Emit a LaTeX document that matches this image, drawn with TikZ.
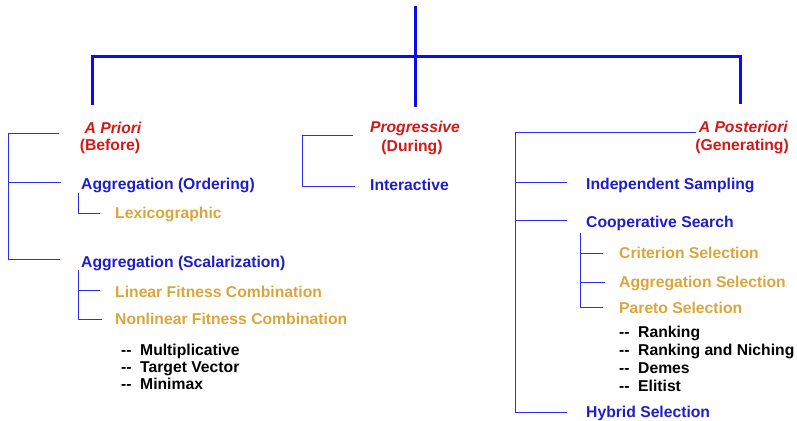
\documentclass[tikz,border=0pt]{standalone}
\usepackage{fontspec}
\setmainfont{Liberation Sans}
\definecolor{topblue}{RGB}{10,10,250}
\definecolor{lineblue}{RGB}{45,45,240}
\definecolor{txtblue}{RGB}{30,30,200}
\definecolor{txtred}{RGB}{210,25,25}
\definecolor{txtgold}{RGB}{220,165,60}
\newcommand\dashitem[1]{\makebox[19pt][l]{-{}-}#1}
\tikzset{
  lbl/.style={anchor=base west, inner sep=0pt, font=\fontsize{15.7}{17}\selectfont\bfseries},
  cat/.style={inner sep=0pt, font=\fontsize{15.7}{17}\selectfont\bfseries, text=txtred},
  lvone/.style={lbl, text=txtblue},
  lvtwo/.style={lbl, text=txtgold},
  lvthree/.style={lbl, text=black},
  trunk/.style={draw=topblue, line width=3pt},
  brk/.style={draw=lineblue, line width=1pt},
}
\begin{document}
\begin{tikzpicture}[x=1pt,y=-1pt]
\useasboundingbox (0,0) rectangle (797,420);
% top tree
\coordinate (root) at (415,6);
\coordinate (rootb) at (415,107);
\coordinate (hl) at (92,57);
\coordinate (hr) at (740,57);
\coordinate (dl) at (92,105);
\coordinate (dr) at (740,104);
\draw[trunk] (root) -- (rootb);
\draw[trunk] (dl) -- (hl) -- (hr) -- (dr);

% A Priori
\node[cat, anchor=base, font=\fontsize{15.7}{17}\selectfont\bfseries\itshape] (apriori) at (113,133) {A Priori};
\node[cat, anchor=base] (before) at (110,150) {(Before)};
\node[lvone] (aggord) at (81,189) {Aggregation (Ordering)};
\node[lvtwo] (lexi) at (115,218) {Lexicographic};
\node[lvone] (aggscal) at (81,267) {Aggregation (Scalarization)};
\node[lvtwo] (linfit) at (115,297) {Linear Fitness Combination};
\node[lvtwo] (nonlin) at (115,324) {Nonlinear Fitness Combination};
\node[lvthree] (mult) at (121,355) {\dashitem{Multiplicative}};
\node[lvthree] (target) at (121,372) {\dashitem{Target Vector}};
\node[lvthree] (minimax) at (121,389) {\dashitem{Minimax}};

\coordinate (lb1) at (8,133); \coordinate (lb1e) at (59,133);
\coordinate (lb2) at (8,182); \coordinate (lb2e) at (61,182);
\coordinate (lb3) at (8,259); \coordinate (lb3e) at (60,259);
\draw[brk] (lb1e) -- (lb1) -- (lb3) -- (lb3e);
\draw[brk] (lb2) -- (lb2e);
\coordinate (ls1) at (78,193); \coordinate (ls1b) at (78,213); \coordinate (ls1e) at (100,213);
\draw[brk] (ls1) -- (ls1b) -- (ls1e);
\coordinate (ls2) at (78,270); \coordinate (ls2a) at (78,290); \coordinate (ls2ae) at (100,290);
\coordinate (ls2b) at (78,319); \coordinate (ls2be) at (102,319);
\draw[brk] (ls2) -- (ls2b) -- (ls2be);
\draw[brk] (ls2a) -- (ls2ae);

% Progressive
\node[cat, anchor=base, font=\fontsize{15.7}{17}\selectfont\bfseries\itshape] (prog) at (415,132) {Progressive};
\node[cat, anchor=base] (during) at (412,151) {(During)};
\node[lvone] (inter) at (370,190) {Interactive};
\coordinate (mb1) at (302,135); \coordinate (mb1e) at (353,135);
\coordinate (mb2) at (302,186); \coordinate (mb2e) at (355,186);
\draw[brk] (mb1e) -- (mb1) -- (mb2) -- (mb2e);

% A Posteriori
\node[cat, anchor=base east, font=\fontsize{15.7}{17}\selectfont\bfseries\itshape] (apost) at (788,132) {A Posteriori};
\node[cat, anchor=base east] (gener) at (789,150) {(Generating)};
\node[lvone] (indep) at (586,189) {Independent Sampling};
\node[lvone] (coop) at (586,227) {Cooperative Search};
\node[lvtwo] (crit) at (619,258) {Criterion Selection};
\node[lvtwo] (aggsel) at (619,287) {Aggregation Selection};
\node[lvtwo] (pareto) at (619,313) {Pareto Selection};
\node[lvthree] (rank) at (619,337) {\dashitem{Ranking}};
\node[lvthree] (ranknich) at (619,355) {\dashitem{Ranking and Niching}};
\node[lvthree] (demes) at (619,373) {\dashitem{Demes}};
\node[lvthree] (elit) at (619,391) {\dashitem{Elitist}};
\node[lvone] (hybrid) at (586,417) {Hybrid Selection};

\coordinate (rb1) at (515,132); \coordinate (rb1e) at (696,132);
\coordinate (rb2) at (515,182); \coordinate (rb2e) at (567,182);
\coordinate (rb3) at (515,220); \coordinate (rb3e) at (567,220);
\coordinate (rb4) at (515,412); \coordinate (rb4e) at (567,412);
\draw[brk] (rb1e) -- (rb1) -- (rb4) -- (rb4e);
\draw[brk] (rb2) -- (rb2e);
\draw[brk] (rb3) -- (rb3e);
\coordinate (rs0) at (580,233);
\coordinate (rs1) at (580,253); \coordinate (rs1e) at (603,253);
\coordinate (rs2) at (580,282); \coordinate (rs2e) at (605,282);
\coordinate (rs3) at (580,307); \coordinate (rs3e) at (603,307);
\draw[brk] (rs0) -- (rs3) -- (rs3e);
\draw[brk] (rs1) -- (rs1e);
\draw[brk] (rs2) -- (rs2e);
\end{tikzpicture}
\end{document}
